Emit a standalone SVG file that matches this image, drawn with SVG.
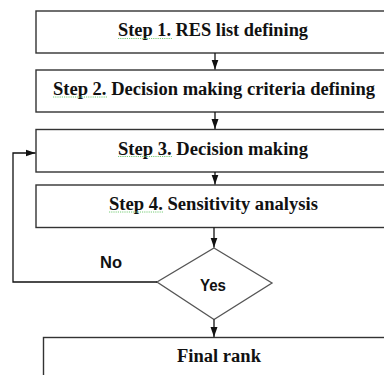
<svg xmlns="http://www.w3.org/2000/svg" width="384" height="375" viewBox="0 0 384 375">
<defs>
<marker id="ah" markerUnits="userSpaceOnUse" markerWidth="10" markerHeight="8" refX="10" refY="4" orient="auto">
<path d="M0,0.5 L10,4 L0,7.5 Z" fill="#111"/>
</marker>
<style>
.box{fill:#fff;stroke:#333;stroke-width:1.4}
.dia{fill:#fff;stroke:#555;stroke-width:1.3}
.st{font-family:"Liberation Serif","Times New Roman",serif;font-weight:bold;font-size:18.6px;fill:#111;text-anchor:middle}
.sn{font-family:"Liberation Sans",Arial,sans-serif;font-weight:bold;font-size:16.5px;fill:#111;text-anchor:middle}
.con{fill:none;stroke:#111;stroke-width:1.3}
.sq{fill:none;stroke:#7c7;stroke-width:1;stroke-dasharray:1.2 1}
</style>
</defs>
<rect width="384" height="375" fill="#fff"/>
<g id="step1">
<rect class="box" x="36" y="11" width="370" height="42"/>
<text class="st" x="213" y="36" textLength="190" lengthAdjust="spacingAndGlyphs">Step 1. RES list defining</text>
<path class="sq" d="M118,38.5 L172,38.5"/>
</g>
<g id="step2">
<rect class="box" x="36" y="70" width="370" height="42"/>
<text class="st" x="214" y="94.5" textLength="322" lengthAdjust="spacingAndGlyphs">Step 2. Decision making criteria defining</text>
<path class="sq" d="M53,97 L107,97"/>
</g>
<g id="step3">
<rect class="box" x="36" y="129.5" width="370" height="42.5"/>
<text class="st" x="213" y="154.5" textLength="190" lengthAdjust="spacingAndGlyphs">Step 3. Decision making</text>
<path class="sq" d="M118,156.5 L172,156.5"/>
</g>
<g id="step4">
<rect class="box" x="36" y="185" width="370" height="42.5"/>
<text class="st" x="213.5" y="210" textLength="209" lengthAdjust="spacingAndGlyphs">Step 4. Sensitivity analysis</text>
<path class="sq" d="M109,212 L163,212"/>
</g>
<g id="decision">
<polygon class="dia" points="214,248 272,283 214,319.5 157,282"/>
<text class="sn" x="213" y="290.5" textLength="26" lengthAdjust="spacingAndGlyphs">Yes</text>
</g>
<g id="final">
<rect class="box" x="43.5" y="337.5" width="370" height="50"/>
<text class="st" x="219" y="361.5" textLength="84" lengthAdjust="spacingAndGlyphs">Final rank</text>
</g>
<g id="connectors">
<line class="con" x1="215" y1="53" x2="215" y2="69.5" marker-end="url(#ah)"/>
<line class="con" x1="215" y1="112" x2="215" y2="129" marker-end="url(#ah)"/>
<line class="con" x1="215" y1="172" x2="215" y2="184.5" marker-end="url(#ah)"/>
<line class="con" x1="214" y1="227.5" x2="214" y2="247.5" marker-end="url(#ah)"/>
<line class="con" x1="214" y1="319.5" x2="214" y2="337" marker-end="url(#ah)"/>
<polyline class="con" points="157,282 13,282 13,153 35.5,153" marker-end="url(#ah)"/>
<text class="sn" x="111" y="268" textLength="22" lengthAdjust="spacingAndGlyphs">No</text>
</g>
</svg>
